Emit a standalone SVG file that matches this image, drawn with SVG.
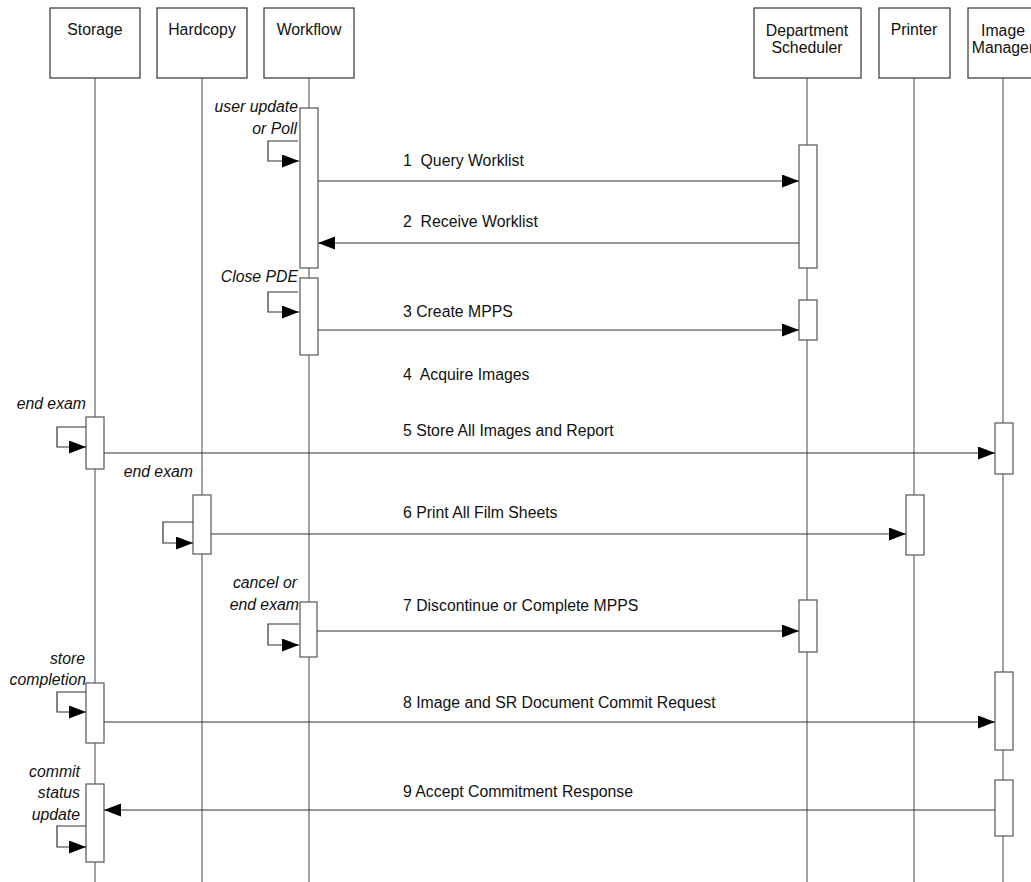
<svg xmlns="http://www.w3.org/2000/svg" width="1031" height="882" viewBox="0 0 1031 882">
<style>
.hdr{fill:#fff;stroke:#333;stroke-width:1.2}
.life{stroke:#666;stroke-width:1.2}
.act{fill:#fff;stroke:#555;stroke-width:1.2}
.msg{stroke:#333;stroke-width:1.2;fill:none}
.t{font-family:"Liberation Sans",Arial,sans-serif;font-size:15.8px;fill:#111;white-space:pre}
.c{text-anchor:middle}
.i{font-style:italic;text-anchor:end}
</style>
<defs>
<marker id="ah" markerUnits="userSpaceOnUse" markerWidth="18" markerHeight="14" refX="17" refY="6.5" orient="auto">
<path d="M0,0 L17,6.5 L0,13 z" fill="#000"/>
</marker>
</defs>
<rect width="1031" height="882" fill="#fff"/>
<g id="lifelines">
<line class="life" x1="95" y1="78" x2="95" y2="882"/>
<line class="life" x1="202" y1="78" x2="202" y2="882"/>
<line class="life" x1="309" y1="78" x2="309" y2="882"/>
<line class="life" x1="807" y1="78" x2="807" y2="882"/>
<line class="life" x1="914" y1="78" x2="914" y2="882"/>
<line class="life" x1="1003" y1="78" x2="1003" y2="882"/>
</g>
<g id="storage">
<rect class="hdr" x="50" y="8" width="90" height="70"/>
<text class="t c" x="95" y="35">Storage</text>
</g>
<g id="hardcopy">
<rect class="hdr" x="157" y="8" width="90" height="70"/>
<text class="t c" x="202" y="35">Hardcopy</text>
</g>
<g id="workflow">
<rect class="hdr" x="264" y="8" width="90" height="70"/>
<text class="t c" x="309" y="35">Workflow</text>
</g>
<g id="department-scheduler">
<rect class="hdr" x="754" y="8" width="107" height="70"/>
<text class="t c" x="807" y="36">Department</text>
<text class="t c" x="807" y="53">Scheduler</text>
</g>
<g id="printer">
<rect class="hdr" x="879" y="8" width="71" height="70"/>
<text class="t c" x="914" y="35">Printer</text>
</g>
<g id="image-manager">
<rect class="hdr" x="968" y="8" width="72" height="70"/>
<text class="t c" x="1003" y="36">Image</text>
<text class="t c" x="1003" y="53">Manager</text>
</g>
<g id="activations">
<rect class="act" x="300" y="108" width="18" height="160"/>
<rect class="act" x="300" y="278" width="18" height="77"/>
<rect class="act" x="799" y="145" width="18" height="123"/>
<rect class="act" x="799" y="300" width="18" height="40"/>
<rect class="act" x="86" y="417" width="18" height="52"/>
<rect class="act" x="995" y="423" width="18" height="51"/>
<rect class="act" x="193" y="495" width="18" height="59"/>
<rect class="act" x="906" y="495" width="18" height="60"/>
<rect class="act" x="300" y="602" width="17" height="55"/>
<rect class="act" x="799" y="600" width="18" height="52"/>
<rect class="act" x="86" y="683" width="18" height="60"/>
<rect class="act" x="995" y="672" width="18" height="78"/>
<rect class="act" x="86" y="784" width="18" height="78"/>
<rect class="act" x="995" y="780" width="18" height="56"/>
</g>
<g id="connectors">
<path class="msg" d="M298,141 H268 V161 H299" marker-end="url(#ah)"/>
<path class="msg" d="M298,292 H268 V312 H299" marker-end="url(#ah)"/>
<path class="msg" d="M86,427 H57 V447 H86" marker-end="url(#ah)"/>
<path class="msg" d="M193,522 H163 V543 H193" marker-end="url(#ah)"/>
<path class="msg" d="M299,624 H268 V645 H299" marker-end="url(#ah)"/>
<path class="msg" d="M86,692 H57 V712 H86" marker-end="url(#ah)"/>
<path class="msg" d="M86,826 H57 V847 H86" marker-end="url(#ah)"/>
<line class="msg" x1="318" y1="181" x2="799" y2="181" marker-end="url(#ah)"/>
<line class="msg" x1="799" y1="243" x2="318" y2="243" marker-end="url(#ah)"/>
<line class="msg" x1="318" y1="330" x2="799" y2="330" marker-end="url(#ah)"/>
<line class="msg" x1="104" y1="453" x2="995" y2="453" marker-end="url(#ah)"/>
<line class="msg" x1="211" y1="534" x2="906" y2="534" marker-end="url(#ah)"/>
<line class="msg" x1="317" y1="631" x2="799" y2="631" marker-end="url(#ah)"/>
<line class="msg" x1="104" y1="722" x2="995" y2="722" marker-end="url(#ah)"/>
<line class="msg" x1="995" y1="810" x2="104" y2="810" marker-end="url(#ah)"/>
</g>
<g id="labels">
<text class="t i" x="298" y="112">user update</text>
<text class="t i" x="297" y="134">or Poll</text>
<text class="t i" x="298" y="282">Close PDE</text>
<text class="t i" x="86" y="409">end exam</text>
<text class="t i" x="193" y="477">end exam</text>
<text class="t i" x="297" y="588">cancel or</text>
<text class="t i" x="299" y="610">end exam</text>
<text class="t i" x="85" y="664">store</text>
<text class="t i" x="86" y="685">completion</text>
<text class="t i" x="80" y="777">commit</text>
<text class="t i" x="80" y="798">status</text>
<text class="t i" x="80" y="820">update</text>
<text class="t" x="403" y="166">1  Query Worklist</text>
<text class="t" x="403" y="227">2  Receive Worklist</text>
<text class="t" x="403" y="317">3 Create MPPS</text>
<text class="t" x="403" y="380">4  Acquire Images</text>
<text class="t" x="403" y="436">5 Store All Images and Report</text>
<text class="t" x="403" y="518">6 Print All Film Sheets</text>
<text class="t" x="403" y="611">7 Discontinue or Complete MPPS</text>
<text class="t" x="403" y="708">8 Image and SR Document Commit Request</text>
<text class="t" x="403" y="797">9 Accept Commitment Response</text>
</g>
</svg>
